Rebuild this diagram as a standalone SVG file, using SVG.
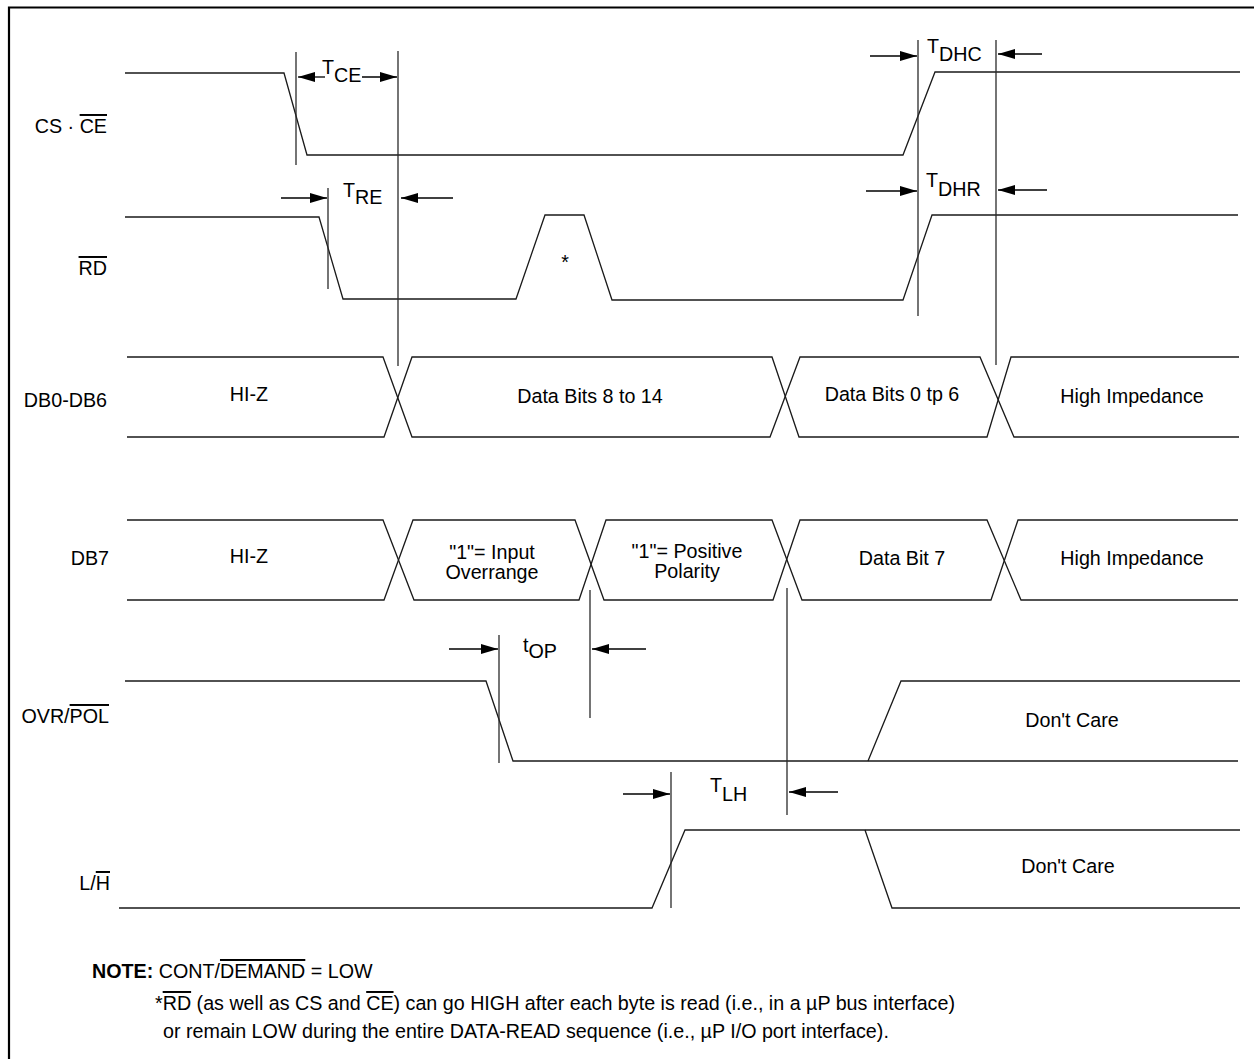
<svg xmlns="http://www.w3.org/2000/svg" width="1254" height="1059" viewBox="0 0 1254 1059">
<defs>
<marker id="ah" markerUnits="userSpaceOnUse" markerWidth="17" markerHeight="10" refX="17" refY="5" orient="auto">
<path d="M0,0 L17,5 L0,10 z" fill="#000"/>
</marker>
<style>
.frame{fill:none;stroke:#000;stroke-width:2.2}
.sig{fill:none;stroke:#1a1a1a;stroke-width:1.3}
.tick{fill:none;stroke:#2a2a2a;stroke-width:1.3}
.arr{fill:none;stroke:#000;stroke-width:1.3;marker-end:url(#ah)}
text{font-family:"Liberation Sans",Arial,Helvetica,sans-serif;font-size:19.7px;fill:#000}
.lbl{text-anchor:end}
.mid{text-anchor:middle}
.ov{text-decoration:overline}
</style>
</defs>
<rect width="1254" height="1059" fill="#fff"/>
<path class="frame" d="M9,1059 V7.5 H1254"/>

<g id="sig-cs">
<text class="lbl" x="107" y="133">CS · <tspan class="ov">CE</tspan></text>
<path class="sig" d="M125,73 H284 L307,155 H903 L935,72 H1240"/>
</g>
<g id="sig-rd">
<text class="lbl" x="107" y="275"><tspan class="ov">RD</tspan></text>
<path class="sig" d="M125,217 H319 L343,299 H516 L545,215 H584 L612,300 H903 L932,215 H1238"/>
<text class="mid" x="565" y="269">*</text>
</g>
<g id="sig-db0">
<text class="lbl" x="107" y="407">DB0-DB6</text>
<path class="sig" d="M127,357 H383 L412,437 H770 L800,357 H980 L1014,437 H1239"/>
<path class="sig" d="M127,437 H384 L412,357 H772 L799,437 H987 L1011,357 H1239"/>
<text class="mid" x="249" y="401">HI-Z</text>
<text class="mid" x="590" y="403">Data Bits 8 to 14</text>
<text class="mid" x="892" y="401">Data Bits 0 tp 6</text>
<text class="mid" x="1132" y="403">High Impedance</text>
</g>
<g id="sig-db7">
<text class="lbl" x="109" y="565">DB7</text>
<path class="sig" d="M127,520 H383 L414,600 H579 L606,520 H772 L802,600 H991 L1018,520 H1238"/>
<path class="sig" d="M127,600 H384 L413,520 H575 L604,600 H773 L800,520 H987 L1021,600 H1238"/>
<text class="mid" x="249" y="563">HI-Z</text>
<text class="mid" x="492" y="559">"1"= Input</text>
<text class="mid" x="492" y="579">Overrange</text>
<text class="mid" x="687" y="558">"1"= Positive</text>
<text class="mid" x="687" y="578">Polarity</text>
<text class="mid" x="902" y="565">Data Bit 7</text>
<text class="mid" x="1132" y="565">High Impedance</text>
</g>
<g id="sig-ovr">
<text class="lbl" x="109" y="723">OVR/<tspan class="ov">POL</tspan></text>
<path class="sig" d="M125,681 H486 L513,761 H1238"/>
<path class="sig" d="M868,761 L901,681 H1240"/>
<text class="mid" x="1072" y="727">Don't Care</text>
</g>
<g id="sig-lh">
<text class="lbl" x="110" y="890">L/<tspan class="ov">H</tspan></text>
<path class="sig" d="M119,908 H652 L685,830 H1240"/>
<path class="sig" d="M865,830 L892,908 H1240"/>
<text class="mid" x="1068" y="873">Don't Care</text>
</g>

<g id="connectors">
<line class="tick" x1="296" y1="52" x2="296" y2="165"/>
<line class="tick" x1="398" y1="51" x2="398" y2="366"/>
<line class="tick" x1="328" y1="188" x2="328" y2="289"/>
<line class="tick" x1="918" y1="40" x2="918" y2="316"/>
<line class="tick" x1="996" y1="40" x2="996" y2="365"/>
<line class="tick" x1="499" y1="635" x2="499" y2="763"/>
<line class="tick" x1="590" y1="590" x2="590" y2="718"/>
<line class="tick" x1="787" y1="588" x2="787" y2="815"/>
<line class="tick" x1="671" y1="772" x2="671" y2="908"/>

<line class="arr" x1="325" y1="77" x2="298" y2="77"/>
<line class="arr" x1="362" y1="77" x2="397" y2="77"/>
<line class="arr" x1="281" y1="198" x2="327" y2="198"/>
<line class="arr" x1="453" y1="198" x2="401" y2="198"/>
<line class="arr" x1="870" y1="56" x2="917" y2="56"/>
<line class="arr" x1="1042" y1="54" x2="998" y2="54"/>
<line class="arr" x1="866" y1="191" x2="917" y2="191"/>
<line class="arr" x1="1047" y1="190" x2="998" y2="190"/>
<line class="arr" x1="449" y1="649" x2="498" y2="649"/>
<line class="arr" x1="646" y1="649" x2="592" y2="649"/>
<line class="arr" x1="623" y1="794" x2="670" y2="794"/>
<line class="arr" x1="838" y1="792" x2="789" y2="792"/>

<text x="322" y="74">T<tspan dy="8">CE</tspan></text>
<text x="343" y="197">T<tspan dy="7">RE</tspan></text>
<text x="927" y="53">T<tspan dy="8">DHC</tspan></text>
<text x="926" y="187">T<tspan dy="9">DHR</tspan></text>
<text x="523" y="652">t<tspan dy="6">OP</tspan></text>
<text x="710" y="792">T<tspan dy="9">LH</tspan></text>
</g>

<g id="note">
<text x="92" y="978"><tspan font-weight="bold">NOTE:</tspan> CONT/<tspan class="ov">DEMAND</tspan> = LOW</text>
<text x="155" y="1010">*<tspan class="ov">RD</tspan> (as well as CS and <tspan class="ov">CE</tspan>) can go HIGH after each byte is read (i.e., in a µP bus interface)</text>
<text x="163" y="1038">or remain LOW during the entire DATA-READ sequence (i.e., µP I/O port interface).</text>
</g>
</svg>
